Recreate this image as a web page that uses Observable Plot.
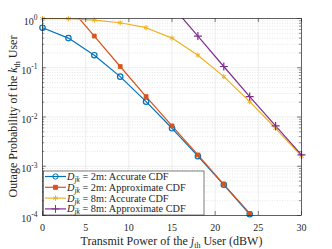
<!DOCTYPE html>
<html><head><meta charset="utf-8">
<script src="https://cdn.jsdelivr.net/npm/d3@7"></script>
<script src="https://cdn.jsdelivr.net/npm/@observablehq/plot@0.6"></script>
<style>body{margin:0;background:#fff} svg{display:block}</style>
</head><body><div id="chart"></div>
<script>
// ---- data ----
const power = [0, 3, 6, 9, 12, 15, 18, 21, 24, 27, 30];
const acc2m    = [0.65, 0.40, 0.18, 0.066, 0.0205, 0.0059, 0.0016, 0.00042, 0.000106, null, null];
const approx2m = [null, 1.8, 0.44, 0.106, 0.026, 0.0066, 0.0017, 0.00043, 0.00011, null, null];
const acc8m    = [0.998, 0.99, 0.93, 0.82, 0.65, 0.40, 0.18, 0.066, 0.0205, 0.0059, 0.0016];
const approx8m = [null, null, null, null, null, 1.8, 0.44, 0.106, 0.026, 0.0066, 0.0017];
const seriesNames = ["2m: Accurate CDF", "2m: Approximate CDF", "8m: Accurate CDF", "8m: Approximate CDF"];
const seriesColors = ["#0072BD", "#D95319", "#EDB120", "#7E2F8E"];
const xTicks = [0, 5, 10, 15, 20, 25, 30];
const yTicks = [1e-4, 1e-3, 1e-2, 1e-1, 1];

const seriesValues = [acc2m, approx2m, acc8m, approx8m];
const rows = [];
seriesValues.forEach((vals, i) => vals.forEach((v, j) => {
  if (v != null) rows.push({series: seriesNames[i], p: power[j], v});
}));
const yMinor = [];
for (let e = -4; e < 0; e++) for (let m = 2; m <= 9; m++) yMinor.push(m * 10 ** e);

const inRange = d => d.v <= 1.0001 && d.v >= 0.99e-4;
const S = i => rows.filter(d => d.series === seriesNames[i]);
const decPx = 197 / 4; // px per decade
const tickUp = 10 ** (4 / decPx);

const axisColor = "#262626";
const plot = Plot.plot({
  width: 332, height: 249,
  marginLeft: 42, marginRight: 31, marginTop: 18, marginBottom: 34,
  style: {fontFamily: "Liberation Serif, serif", fontSize: "10px", background: "white", color: axisColor},
  x: {domain: [0, 30]},
  y: {type: "log", domain: [1e-4, 1]},
  marks: [
    Plot.ruleY(yMinor, {stroke: "#cfcfcf", strokeWidth: 0.5, strokeDasharray: "1,1.5"}),
    Plot.ruleY(yTicks, {stroke: "#e2e2e2", strokeWidth: 0.6}),
    Plot.ruleX(xTicks, {stroke: "#e2e2e2", strokeWidth: 0.6}),
    Plot.line(rows, {x: "p", y: "v", z: "series", stroke: d => seriesColors[seriesNames.indexOf(d.series)], strokeWidth: 1.2, clip: true}),
    Plot.dot(S(0).filter(inRange), {x: "p", y: "v", symbol: "circle", r: 2.7, stroke: seriesColors[0], fill: "none", strokeWidth: 1.2}),
    Plot.dot(S(1).filter(inRange), {x: "p", y: "v", symbol: "square", r: 2.2, stroke: seriesColors[1], fill: seriesColors[1], strokeWidth: 0.8}),
    Plot.dot(S(2).filter(inRange), {x: "p", y: "v", symbol: "asterisk", r: 2.5, stroke: seriesColors[2], strokeWidth: 1}),
    Plot.dot(S(3).filter(inRange), {x: "p", y: "v", symbol: "plus", r: 2.7, stroke: seriesColors[3], strokeWidth: 1.2}),
    // inward ticks
    Plot.ruleY(yTicks, {x1: 0, x2: 0.45, stroke: axisColor, strokeWidth: 0.6}),
    Plot.ruleY(yTicks, {x1: 29.55, x2: 30, stroke: axisColor, strokeWidth: 0.6}),
    Plot.ruleY(yMinor, {x1: 0, x2: 0.25, stroke: axisColor, strokeWidth: 0.5}),
    Plot.ruleY(yMinor, {x1: 29.75, x2: 30, stroke: axisColor, strokeWidth: 0.5}),
    Plot.ruleX(xTicks, {y1: 1e-4, y2: 1e-4 * tickUp, stroke: axisColor, strokeWidth: 0.6}),
    Plot.ruleX(xTicks, {y1: 1 / tickUp, y2: 1, stroke: axisColor, strokeWidth: 0.6}),
    Plot.frame({stroke: axisColor, strokeWidth: 0.7}),
    Plot.axisX({ticks: xTicks, tickSize: 0, tickPadding: 8, label: null, fontSize: 10}),
    Plot.axisY({ticks: yTicks, tickSize: 0, tickPadding: 5, label: null, dy: 3, fontSize: 10,
      tickFormat: d => String(Math.round(Math.log10(d)))})
  ]
});
document.getElementById("chart").appendChild(plot);
const svg = d3.select(plot);

// superscript exponents on y tick labels
svg.selectAll('[aria-label="y-axis tick label"] text').each(function () {
  const exp = this.textContent;
  const t = d3.select(this);
  t.text(null);
  t.append("tspan").text("10");
  t.append("tspan").attr("dy", "-4.5").attr("font-size", "7.5").text(exp);
});

// axis titles
const xl = svg.append("text").attr("x", 171.5).attr("y", 245).attr("text-anchor", "middle")
  .attr("font-family", "Liberation Serif, serif").attr("font-size", 12).attr("font-weight", "normal").attr("fill", axisColor);
xl.append("tspan").text("Transmit Power of the ");
xl.append("tspan").attr("font-style", "italic").text("j");
xl.append("tspan").attr("dy", 2.5).attr("font-size", 8).text("th");
xl.append("tspan").attr("dy", -2.5).text(" User (dBW)");

const yl = svg.append("text").attr("transform", "translate(17,116.5) rotate(-90)").attr("text-anchor", "middle")
  .attr("font-family", "Liberation Serif, serif").attr("font-size", 12).attr("fill", axisColor);
yl.append("tspan").text("Outage Probability of the ");
yl.append("tspan").attr("font-style", "italic").text("k");
yl.append("tspan").attr("dy", 2.5).attr("font-size", 8).text("th");
yl.append("tspan").attr("dy", -2.5).text(" User");

// legend
const lg = svg.append("g").attr("text-anchor", "start");
lg.append("rect").attr("x", 43.5).attr("y", 171).attr("width", 160.5).attr("height", 44)
  .attr("fill", "white").attr("stroke", axisColor).attr("stroke-width", 0.6);
const symbols = [d3.symbolCircle, d3.symbolSquare, d3.symbolAsterisk, d3.symbolPlus];
const symSizes = [22, 16, 20, 22];
const fills = ["none", seriesColors[1], "none", "none"];
seriesNames.forEach((name, i) => {
  const cy = 176.5 + i * 10.8;
  lg.append("line").attr("x1", 45).attr("x2", 66).attr("y1", cy).attr("y2", cy)
    .attr("stroke", seriesColors[i]).attr("stroke-width", 1.2);
  lg.append("path").attr("d", d3.symbol(symbols[i], symSizes[i])())
    .attr("transform", `translate(55.5,${cy})`)
    .attr("fill", fills[i]).attr("stroke", seriesColors[i]).attr("stroke-width", 1);
  const t = lg.append("text").attr("x", 67).attr("y", cy + 3.4).attr("text-anchor", "start")
    .attr("font-family", "Liberation Serif, serif").attr("font-size", 10.3).attr("fill", axisColor);
  t.append("tspan").attr("font-style", "italic").text("D");
  t.append("tspan").attr("font-style", "italic").attr("font-size", 7.5).attr("dy", 2).text("jk");
  t.append("tspan").attr("dy", -2).text(" = " + name);
});
</script>
</body></html>
